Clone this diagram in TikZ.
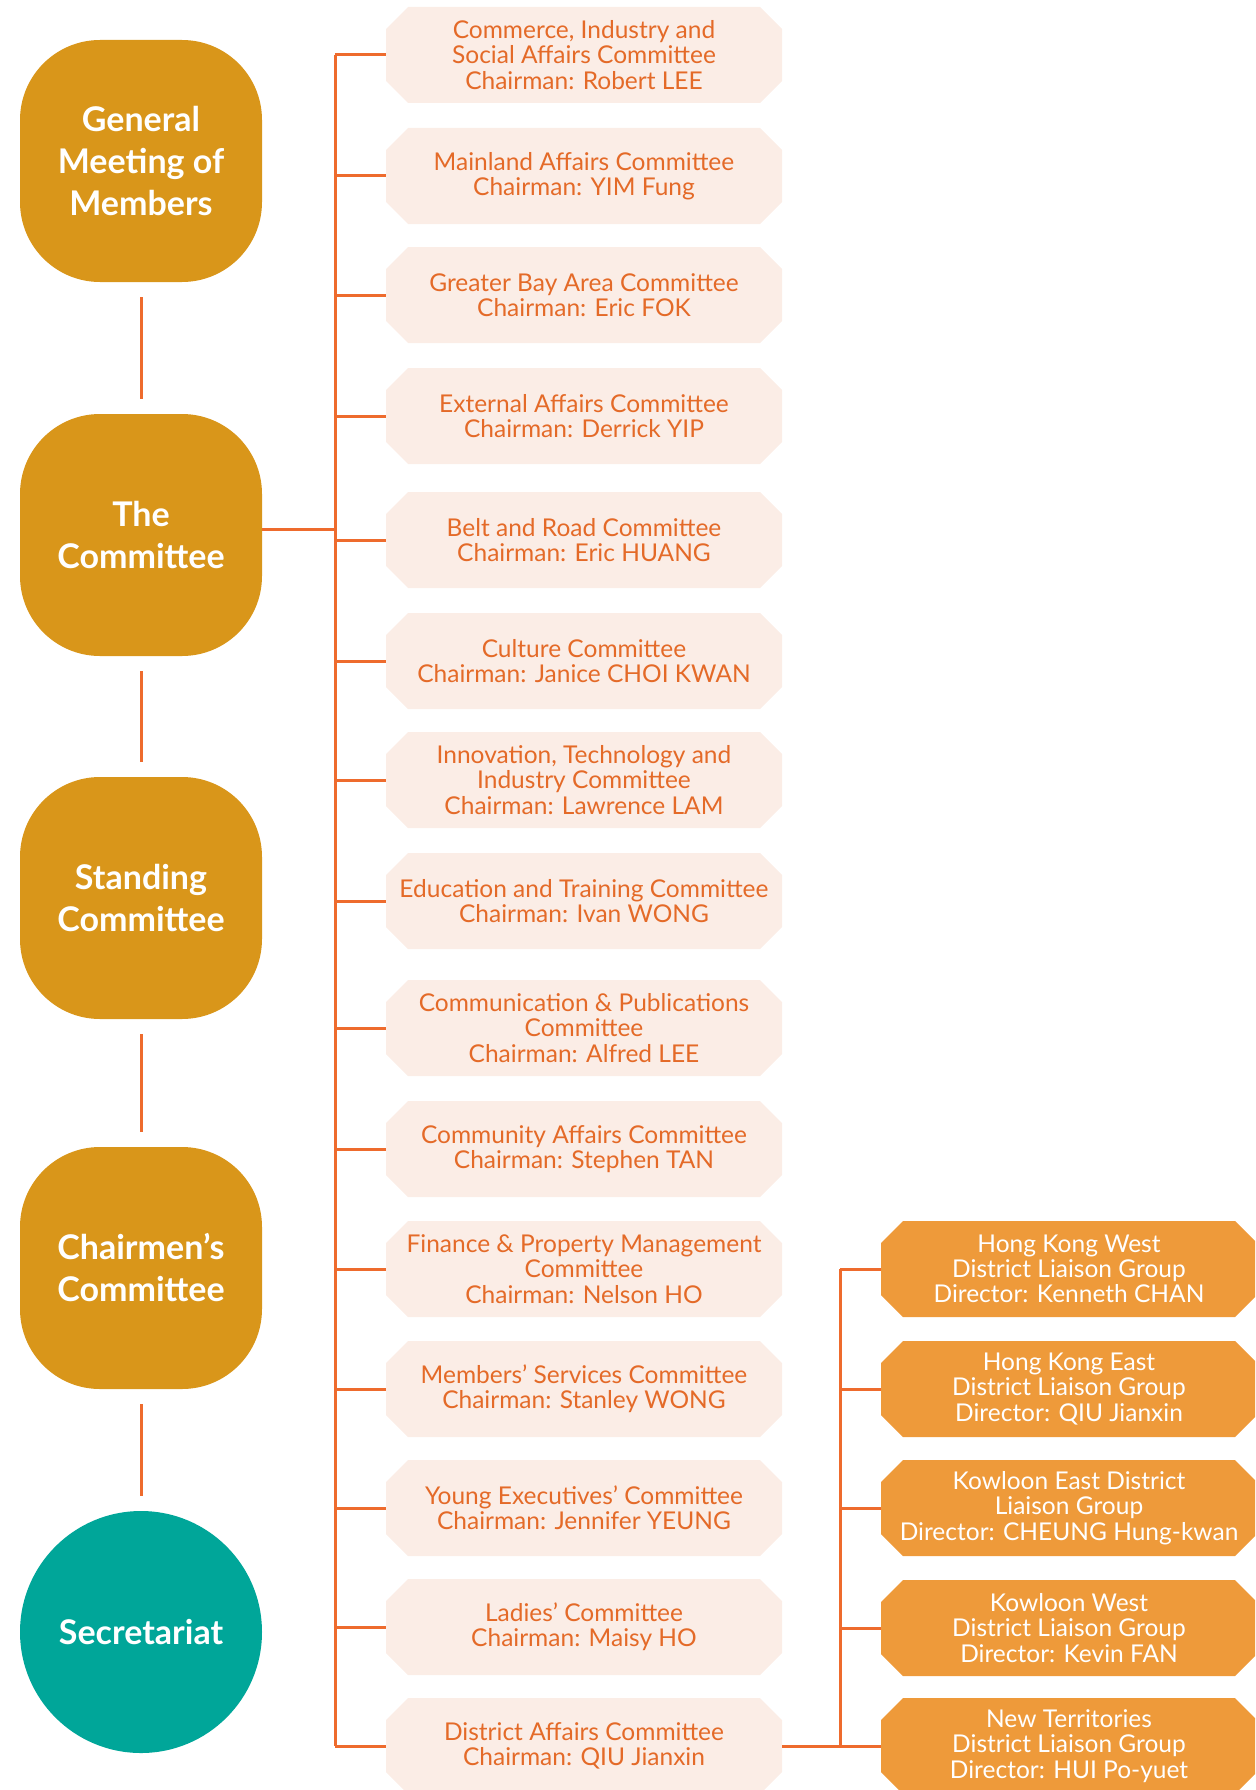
\documentclass[tikz,border=0pt]{standalone}
\usepackage{fontspec}
\setmainfont{Lato}
\usepackage{tikz}
\usetikzlibrary{shapes.misc}
\definecolor{gold}{HTML}{D9961A}
\definecolor{teal}{HTML}{00A699}
\definecolor{linecol}{HTML}{EE6B2D}
\definecolor{paleorange}{HTML}{FBEDE6}
\definecolor{textorange}{HTML}{E46A28}
\definecolor{distorange}{HTML}{EE9A3A}
\begin{document}
\begin{tikzpicture}[x=1pt, y=-1pt,
		lead_style/.style={rectangle,rounded corners=80pt,fill=gold,text=white,minimum width=242pt,minimum height=242pt,inner sep=0pt,align=center,font=\fontsize{34}{42}\selectfont\bfseries},
		sec_style/.style={circle,fill=teal,text=white,minimum size=242pt,inner sep=0pt,font=\fontsize{34}{42}\selectfont\bfseries},
		comm_style/.style={chamfered rectangle,chamfered rectangle xsep=11pt,chamfered rectangle ysep=11pt,fill=paleorange,text=textorange,minimum width=396pt,minimum height=96pt,inner sep=0pt,align=center,font=\fontsize{24.5}{25.3}\selectfont},
		dist_style/.style={chamfered rectangle,chamfered rectangle xsep=11pt,chamfered rectangle ysep=11pt,fill=distorange,text=white,minimum width=376pt,minimum height=96pt,inner sep=0pt,align=center,font=\fontsize{24.5}{25.3}\selectfont},
		edge_style/.style={draw=linecol,line width=3pt}]
		\clip (0,0) rectangle (1255,1790);
		% left column
		\node[lead_style] (l1) at (141,161)  {General\\Meeting of\\Members};
		\node[lead_style] (l2) at (141,535)  {The\\Committee};
		\node[lead_style] (l3) at (141,898)  {Standing\\Committee};
		\node[lead_style] (l4) at (141,1268) {Chairmen’s\\Committee};
		\node[sec_style]  (l5) at (141,1632) {Secretariat};
		\draw[edge_style, shorten <=15pt, shorten >=15pt]  (l1) -- (l2);
		\draw[edge_style, shorten <=15pt, shorten >=15pt]  (l2) -- (l3);
		\draw[edge_style, shorten <=15pt, shorten >=15pt]  (l3) -- (l4);
		\draw[edge_style, shorten <=15pt, shorten >=15pt]  (l4) -- (l5);
		% committees
		\node[comm_style] (c1) at (584,55)    {Commerce, Industry and\\Social Affairs Committee\\Chairman: Robert LEE};
		\node[comm_style] (c2) at (584,176)   {Mainland Affairs Committee\\Chairman: YIM Fung};
		\node[comm_style] (c3) at (584,295)   {Greater Bay Area Committee\\Chairman: Eric FOK};
		\node[comm_style] (c4) at (584,416)   {External Affairs Committee\\Chairman: Derrick YIP};
		\node[comm_style] (c5) at (584,540)   {Belt and Road Committee\\Chairman: Eric HUANG};
		\node[comm_style] (c6) at (584,661)   {Culture Committee\\Chairman: Janice CHOI KWAN};
		\node[comm_style] (c7) at (584,780)   {Innovation, Technology and\\Industry Committee\\Chairman: Lawrence LAM};
		\node[comm_style] (c8) at (584,901)   {Education and Training Committee\\Chairman: Ivan WONG};
		\node[comm_style] (c9) at (584,1028)  {Communication \& Publications\\Committee\\Chairman: Alfred LEE};
		\node[comm_style] (c10) at (584,1149) {Community Affairs Committee\\Chairman: Stephen TAN};
		\node[comm_style] (c11) at (584,1269) {Finance \& Property Management\\Committee\\Chairman: Nelson HO};
		\node[comm_style] (c12) at (584,1389) {Members’ Services Committee\\Chairman: Stanley WONG};
		\node[comm_style] (c13) at (584,1508) {Young Executives’ Committee\\Chairman: Jennifer YEUNG};
		\node[comm_style] (c14) at (584,1627) {Ladies’ Committee\\Chairman: Maisy HO};
		\node[comm_style] (c15) at (584,1746) {District Affairs Committee\\Chairman: QIU Jianxin};
		% district groups
		\node[dist_style] (d1) at (1069,1269) {Hong Kong West\\District Liaison Group\\Director: Kenneth CHAN};
		\node[dist_style] (d2) at (1069,1389) {Hong Kong East\\District Liaison Group\\Director: QIU Jianxin};
		\node[dist_style] (d3) at (1069,1508) {Kowloon East District\\Liaison Group\\Director: CHEUNG Hung-kwan};
		\node[dist_style] (d4) at (1069,1628) {Kowloon West\\District Liaison Group\\Director: Kevin FAN};
		\node[dist_style] (d5) at (1069,1746) {New Territories\\District Liaison Group\\Director: HUI Po-yuet};
		% main bus
		\coordinate (bus) at (335,55);
		\coordinate (l2out) at ([yshift=6pt]l2.east);
		\draw[edge_style]  (l2out) -- (l2out -| bus);
		\draw[edge_style]  (c1.west -| bus) -- (c15.west -| bus);
		\draw[edge_style]  (c1.west -| bus) -- (c1.west);
		\draw[edge_style]  (c2.west -| bus) -- (c2.west);
		\draw[edge_style]  (c3.west -| bus) -- (c3.west);
		\draw[edge_style]  (c4.west -| bus) -- (c4.west);
		\draw[edge_style]  (c5.west -| bus) -- (c5.west);
		\draw[edge_style]  (c6.west -| bus) -- (c6.west);
		\draw[edge_style]  (c7.west -| bus) -- (c7.west);
		\draw[edge_style]  (c8.west -| bus) -- (c8.west);
		\draw[edge_style]  (c9.west -| bus) -- (c9.west);
		\draw[edge_style]  (c10.west -| bus) -- (c10.west);
		\draw[edge_style]  (c11.west -| bus) -- (c11.west);
		\draw[edge_style]  (c12.west -| bus) -- (c12.west);
		\draw[edge_style]  (c13.west -| bus) -- (c13.west);
		\draw[edge_style]  (c14.west -| bus) -- (c14.west);
		\draw[edge_style]  (c15.west -| bus) -- (c15.west);
		% district bus
		\coordinate (dbus) at (840,1269);
		\draw[edge_style]  (c15.east) -- (d5.west);
		\draw[edge_style]  (d1.west -| dbus) -- (d5.west -| dbus);
		\draw[edge_style]  (d1.west -| dbus) -- (d1.west);
		\draw[edge_style]  (d2.west -| dbus) -- (d2.west);
		\draw[edge_style]  (d3.west -| dbus) -- (d3.west);
		\draw[edge_style]  (d4.west -| dbus) -- (d4.west);
		\end{tikzpicture}
\end{document}
